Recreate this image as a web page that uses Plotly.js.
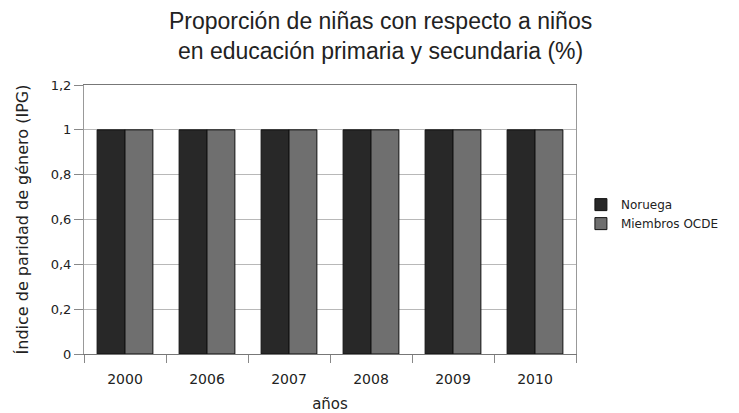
<!DOCTYPE html>
<html>
<head>
<meta charset="utf-8">
<script src="https://cdn.plot.ly/plotly-3.0.1.min.js"></script>
<style>html,body{margin:0;padding:0;background:#fff;}#chart{width:739px;height:413px;}</style>
</head>
<body>
<div id="chart"></div>
<script>
const years = ["2000", "2006", "2007", "2008", "2009", "2010"];
const noruega = [1, 1, 1, 1, 1, 1];
const ocde = [1, 1, 1, 1, 1, 1];
const seriesNames = ["Noruega", "Miembros OCDE"];

const data = [
  {type: "bar", x: years, y: noruega, name: seriesNames[0],
   marker: {color: "#282828", line: {color: "#111", width: 1}}},
  {type: "bar", x: years, y: ocde, name: seriesNames[1],
   marker: {color: "#6f6f6f", line: {color: "#111", width: 1}}}
];

const layout = {
  width: 739, height: 413,
  margin: {l: 84, r: 163, t: 85, b: 59},
  paper_bgcolor: "#fff", plot_bgcolor: "#fff",
  separators: ",.",
  barmode: "group", bargap: 0.32, bargroupgap: 0,
  font: {family: "DejaVu Sans, sans-serif", size: 12, color: "#222"},
  title: {
    text: "Proporción de niñas con respecto a niños<br>en educación primaria y secundaria (%)",
    font: {family: "Liberation Sans, Arial, sans-serif", size: 23, color: "#222"},
    x: 0.515, xanchor: "center", yref: "container", y: 0.93, yanchor: "middle"
  },
  xaxis: {
    type: "category", tickson: "boundaries", ticks: "outside", ticklen: 8,
    tickcolor: "#888", showline: true, linecolor: "#777", linewidth: 1, mirror: true,
    showgrid: false, tickfont: {size: 14, color: "#222"}, ticklabelstandoff: 12,
    title: {text: "años", standoff: 12, font: {size: 15, color: "#222"}}
  },
  yaxis: {
    range: [0, 1.2], dtick: 0.2, ticks: "outside", ticklen: 9, tickcolor: "#888",
    showline: true, linecolor: "#999", mirror: true, showgrid: true, gridcolor: "#b8b8b8",
    zeroline: false, tickfont: {size: 13, color: "#222"},
    title: {text: "Índice de paridad de género (IPG)", standoff: 18, font: {size: 16, color: "#222"}}
  },
  legend: {
    x: 1.01, xanchor: "left", y: 0.52, yanchor: "middle",
    font: {size: 12, color: "#222"}, tracegroupgap: 0, itemwidth: 30
  },
  showlegend: true
};

Plotly.newPlot("chart", data, layout, {displayModeBar: false, staticPlot: true});
</script>
</body>
</html>
